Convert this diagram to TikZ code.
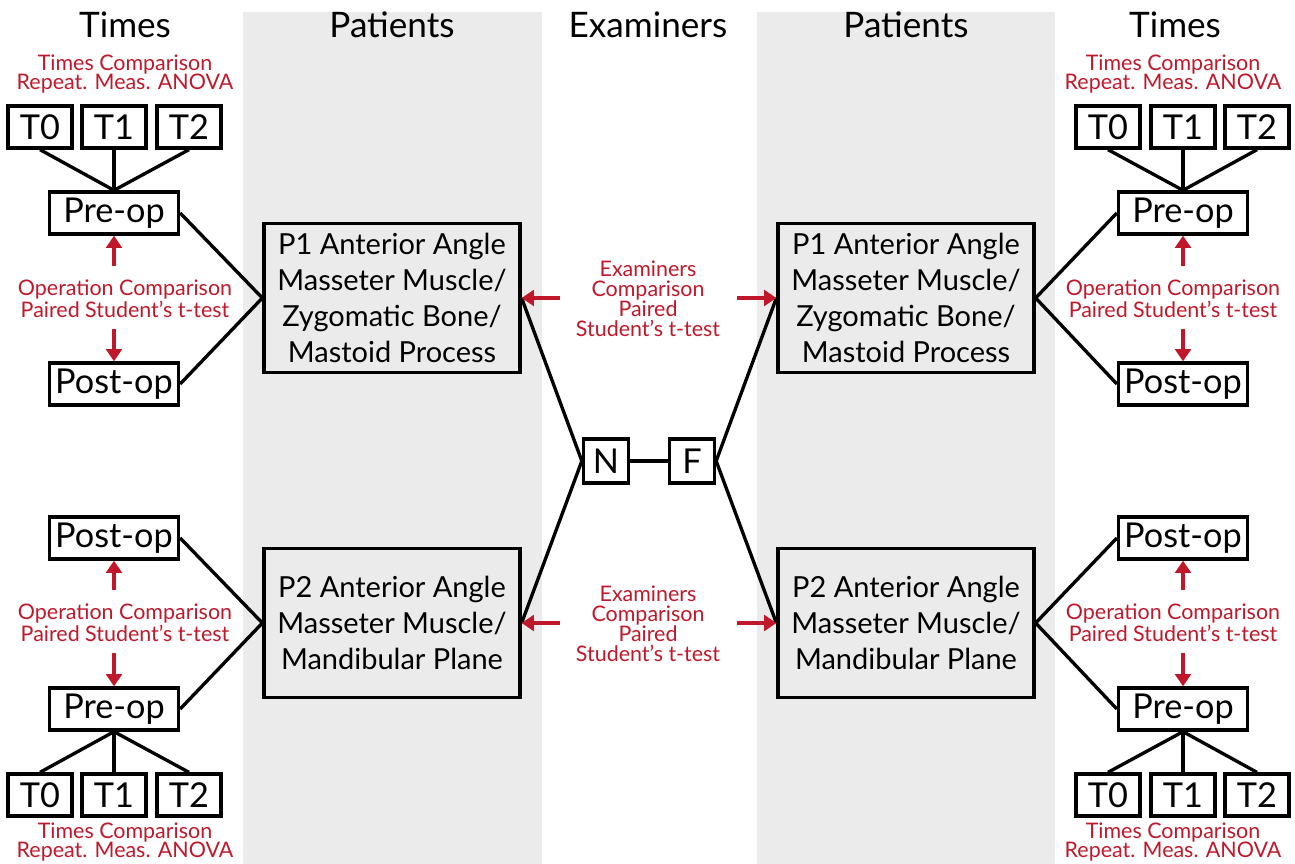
\documentclass[tikz,border=0pt]{standalone}
\usepackage{fontspec}
\setmainfont{Lato}
\usetikzlibrary{arrows.meta}
\definecolor{bandgray}{HTML}{EBEBEB}
\definecolor{statred}{HTML}{C0182A}
\begin{document}
\begin{tikzpicture}[x=0.02cm,y=-0.02cm,
	box/.style={draw, line width=1.9pt, inner sep=0pt, font=\fontsize{19.5}{22}\selectfont},
	tbox/.style={box, minimum width=1.28cm, minimum height=0.84cm},
	opbox/.style={box, minimum width=2.58cm, minimum height=0.84cm},
	pbox/.style={box, fill=bandgray, minimum width=5.12cm, minimum height=2.98cm, align=center, font=\fontsize{16.5}{20.4}\selectfont},
	ebox/.style={box, minimum width=0.9cm, minimum height=0.88cm},
	head/.style={font=\fontsize{20}{22}\selectfont},
	stat/.style={text=statred, align=center, inner sep=0pt, font=\fontsize{12.2}{11.3}\selectfont},
	conn/.style={line width=1.9pt},
	redarrow/.style={draw=statred, line width=2.2pt, -{Triangle[length=7pt,width=9pt]}}]
	\useasboundingbox (0,0) rectangle (1295,864);

	% background bands
	\fill[bandgray] (243,12) rectangle (542,864);
	\fill[bandgray] (757,12) rectangle (1055,864);

	\node[head] (timesl) at (125,25) {Times};
	\node[head] (patl) at (392,25) {Patients};
	\node[head] (exam) at (648,25) {Examiners};
	\node[head] (patr) at (906,25) {Patients};
	\node[head] (timesr) at (1175,25) {Times};

	% left top
	\node[stat] (ltstat) at (125,74) {Times Comparison\\Repeat. Meas. ANOVA};
	\node[tbox] (lt0) at (40,127) {T0};
	\node[tbox] (lt1) at (114,127) {T1};
	\node[tbox] (lt2) at (189,127) {T2};
	\node[opbox] (ltpre) at (114,213) {Pre-op};
	\node[stat] (ltop) at (125,299) {Operation Comparison\\Paired Student's t-test};
	\node[opbox] (ltpost) at (114,384) {Post-op};

	% left bottom
	\node[opbox] (lbpost) at (114,538) {Post-op};
	\node[stat] (lbop) at (125,623) {Operation Comparison\\Paired Student's t-test};
	\node[opbox] (lbpre) at (114,709) {Pre-op};
	\node[tbox] (lb0) at (40,795) {T0};
	\node[tbox] (lb1) at (114,795) {T1};
	\node[tbox] (lb2) at (189,795) {T2};
	\node[stat] (lbstat) at (125,842) {Times Comparison\\Repeat. Meas. ANOVA};

	% patients
	\node[pbox] (lp1) at (392,298) {P1 Anterior Angle\\Masseter Muscle/\\Zygomatic Bone/\\Mastoid Process};
	\node[pbox] (lp2) at (392,623) {P2 Anterior Angle\\Masseter Muscle/\\Mandibular Plane};
	\node[pbox] (rp1) at (906,298) {P1 Anterior Angle\\Masseter Muscle/\\Zygomatic Bone/\\Mastoid Process};
	\node[pbox] (rp2) at (906,623) {P2 Anterior Angle\\Masseter Muscle/\\Mandibular Plane};

	% examiners
	\node[ebox] (n) at (606,461) {N};
	\node[ebox] (f) at (692,461) {F};
	\node[stat] (exu) at (648,299) {Examiners\\Comparison\\Paired\\Student's t-test};
	\node[stat] (exd) at (648,624) {Examiners\\Comparison\\Paired\\Student's t-test};
	\coordinate (exul) at (560,298);
	\coordinate (exur) at (737,298);
	\coordinate (exdl) at (560,623);
	\coordinate (exdr) at (737,623);

	% right top
	\node[stat] (rtstat) at (1173,74) {Times Comparison\\Repeat. Meas. ANOVA};
	\node[tbox] (rt0) at (1108,127) {T0};
	\node[tbox] (rt1) at (1183,127) {T1};
	\node[tbox] (rt2) at (1257,127) {T2};
	\node[opbox] (rtpre) at (1183,213) {Pre-op};
	\node[stat] (rtop) at (1173,299) {Operation Comparison\\Paired Student's t-test};
	\node[opbox] (rtpost) at (1183,384) {Post-op};

	% right bottom
	\node[opbox] (rbpost) at (1183,538) {Post-op};
	\node[stat] (rbop) at (1173,623) {Operation Comparison\\Paired Student's t-test};
	\node[opbox] (rbpre) at (1183,709) {Pre-op};
	\node[tbox] (rb0) at (1108,795) {T0};
	\node[tbox] (rb1) at (1183,795) {T1};
	\node[tbox] (rb2) at (1257,795) {T2};
	\node[stat] (rbstat) at (1173,842) {Times Comparison\\Repeat. Meas. ANOVA};

	% connectors
	\draw[conn] (lt0.south) -- (ltpre.north);
	\draw[conn] (lt1.south) -- (ltpre.north);
	\draw[conn] (lt2.south) -- (ltpre.north);
	\draw[conn] (lb0.north) -- (lbpre.south);
	\draw[conn] (lb1.north) -- (lbpre.south);
	\draw[conn] (lb2.north) -- (lbpre.south);
	\draw[conn] (rt0.south) -- (rtpre.north);
	\draw[conn] (rt1.south) -- (rtpre.north);
	\draw[conn] (rt2.south) -- (rtpre.north);
	\draw[conn] (rb0.north) -- (rbpre.south);
	\draw[conn] (rb1.north) -- (rbpre.south);
	\draw[conn] (rb2.north) -- (rbpre.south);

	\draw[conn] (ltpre.east) -- (lp1.west);
	\draw[conn] (ltpost.east) -- (lp1.west);
	\draw[conn] (lbpost.east) -- (lp2.west);
	\draw[conn] (lbpre.east) -- (lp2.west);
	\draw[conn] (rtpre.west) -- (rp1.east);
	\draw[conn] (rtpost.west) -- (rp1.east);
	\draw[conn] (rbpost.west) -- (rp2.east);
	\draw[conn] (rbpre.west) -- (rp2.east);

	\draw[conn] (lp1.east) -- (n.west);
	\draw[conn] (lp2.east) -- (n.west);
	\draw[conn] (n) -- (f);
	\draw[conn] (f.east) -- (rp1.west);
	\draw[conn] (f.east) -- (rp2.west);

	% red arrows
	\draw[redarrow, shorten <=8pt] (ltop.north -| ltpre.south) -- (ltpre.south);
	\draw[redarrow, shorten <=6pt] (ltop.south -| ltpost.north) -- (ltpost.north);
	\draw[redarrow, shorten <=8pt] (lbop.north -| lbpost.south) -- (lbpost.south);
	\draw[redarrow, shorten <=6pt] (lbop.south -| lbpre.north) -- (lbpre.north);
	\draw[redarrow, shorten <=8pt] (rtop.north -| rtpre.south) -- (rtpre.south);
	\draw[redarrow, shorten <=6pt] (rtop.south -| rtpost.north) -- (rtpost.north);
	\draw[redarrow, shorten <=8pt] (rbop.north -| rbpost.south) -- (rbpost.south);
	\draw[redarrow, shorten <=6pt] (rbop.south -| rbpre.north) -- (rbpre.north);

	\draw[redarrow] (exul) -- (lp1.east);
	\draw[redarrow] (exur) -- (rp1.west);
	\draw[redarrow] (exdl) -- (lp2.east);
	\draw[redarrow] (exdr) -- (rp2.west);
\end{tikzpicture}
\end{document}
